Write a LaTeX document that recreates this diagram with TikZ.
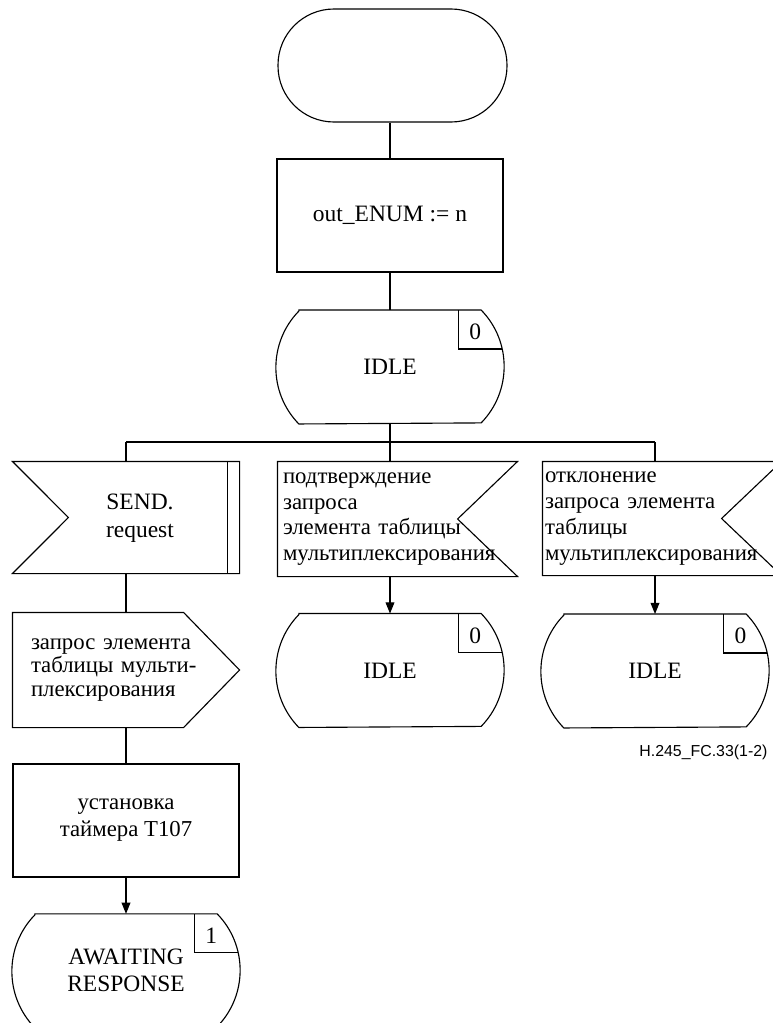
\documentclass[tikz,border=0pt]{standalone}
\usepackage{fontspec}
\setmainfont{Liberation Serif}
\setsansfont{Liberation Sans}
\usepackage{tikz}
\usetikzlibrary{arrows.meta,positioning,calc}

\tikzset{
  sdltext/.style={font=\fontsize{16.7}{18.5}\selectfont, inner sep=0pt},
  cyrtext/.style={font=\fontsize{16.2}{18.3}\selectfont},
  startbox/.style={sdltext, draw, rounded corners=1.4cm, minimum width=5.725cm, minimum height=2.825cm},
  taskbox/.style={sdltext, draw, minimum width=5.65cm, minimum height=2.825cm, align=center},
  statebox/.style={sdltext, minimum width=5.68cm, minimum height=2.82cm, align=center},
  inbox/.style={sdltext, align=left},
  flow/.style={-{Triangle[length=2.8mm,width=2.2mm]}}
}

% state symbol: flat top and bottom, arcs at the sides, number box top right
\newcommand{\sdlstate}[2]{%
  \draw ($(#1.north west)+(0.575,0)$) -- ($(#1.north east)+(-0.575,0)$)
    arc[start angle=44.3, end angle=-44.3, radius=2.02]
    -- ($(#1.south west)+(0.575,0)$)
    arc[start angle=224.3, end angle=135.7, radius=2.02] -- cycle;
  \draw ($(#1.north east)+(-1.15,0)$) |- ($(#1.north east)+(-0.05,-0.975)$);
  \node[sdltext] (#1num) at ($(#1.north east)+(-0.72,-0.55)$) {#2};
}

\begin{document}
\begin{tikzpicture}[line width=0.8pt]
    \useasboundingbox (0,0) rectangle (19.325,-25.575);

    % Start and initialisation
    \node[startbox] (start) at (9.8125,-1.6375) {};
    \node[taskbox] (init) at (9.75,-5.3875) {out\_ENUM := n};
    \node[statebox] (idle0) at (9.75,-9.175) {IDLE};
    \sdlstate{idle0}{0}

    % Inputs
    \node[sdltext, minimum width=5.65cm, minimum height=2.775cm] (send) at (3.15,-12.9375) {};
    \draw (send.north west) -- (send.north east) -- (send.south east) -- (send.south west)
        -- ($(send.west)+(1.4,0)$) -- cycle;
    \draw ($(send.north east)+(-0.3,0)$) -- ($(send.south east)+(-0.3,0)$);
    \node[sdltext, align=center, font=\fontsize{16.7}{20}\selectfont] (sendtxt) at (3.5,-12.95) {SEND.\\request};

    \node[inbox, cyrtext, minimum width=5.975cm, minimum height=2.85cm, text width=5.725cm, inner xsep=0.125cm]
        (conf) at (9.9375,-12.975)
        {подтверждение\\запроса\\элемента таблицы\\мультиплексирования};
    \draw (conf.north west) -- (conf.north east) -- ($(conf.east)+(-1.5,0)$) -- (conf.south east)
        -- (conf.south west) -- cycle;

    \node[inbox, cyrtext, minimum width=5.95cm, minimum height=2.825cm, text width=5.85cm, inner xsep=0.05cm]
        (rej) at (16.55,-12.9625)
        {отклонение\\запроса элемента\\таблицы\\мультиплексирования};
    \draw (rej.north west) -- (rej.north east) -- ($(rej.east)+(-1.5,0)$) -- (rej.south east)
        -- (rej.south west) -- cycle;

    % Next states
    \node[statebox] (idle1) at (9.75,-16.7625) {IDLE};
    \sdlstate{idle1}{0}
    \node[statebox] (idle2) at (16.375,-16.775) {IDLE};
    \sdlstate{idle2}{0}

    % Left branch
    \node[inbox, minimum width=5.65cm, minimum height=2.85cm, text width=4.75cm, inner xsep=0.45cm,
        font=\fontsize{16.2}{16.4}\selectfont] (req) at (3.15,-16.75)
        {запрос элемента\\таблицы мульти-\\плексирования};
    \draw (req.north west) -- ($(req.north east)+(-1.4,0)$) -- (req.east)
        -- ($(req.south east)+(-1.4,0)$) -- (req.south west) -- cycle;
    \node[taskbox, font=\fontsize{16.2}{19.2}\selectfont] (timer) at (3.15,-20.5125) {установка\\таймера T107};
    \node[statebox, font=\fontsize{16.7}{19.2}\selectfont] (wait) at (3.15,-24.27) {AWAITING\\RESPONSE};
    \sdlstate{wait}{1}

    % Connectors
    \coordinate (busL) at (3.15,-11.05);
    \coordinate (busR) at (16.375,-11.05);
    \draw (start.south -| init.north) -- (init.north);
    \draw (init.south) -- (idle0.north);
    \draw (idle0.south) -- (idle0.south |- busL);
    \draw (busL) -- (busR);
    \draw (busL) -- (send.north);
    \draw (busL -| idle1.north) -- (conf.north -| idle1.north);
    \draw (busR) -- (rej.north -| busR);
    \draw (send.south) -- (req.north);
    \draw (req.south) -- (timer.north);
    \draw[flow] (timer.south) -- (wait.north);
    \draw[flow] (conf.south -| idle1.north) -- (idle1.north);
    \draw[flow] (rej.south -| idle2.north) -- (idle2.north);

    % Figure id
    \node[font=\sffamily\fontsize{11.3}{13}\selectfont, anchor=east, inner sep=0pt] (figid) at (19.2,-18.8)
        {H.245\_FC.33(1-2)};
\end{tikzpicture}
\end{document}
